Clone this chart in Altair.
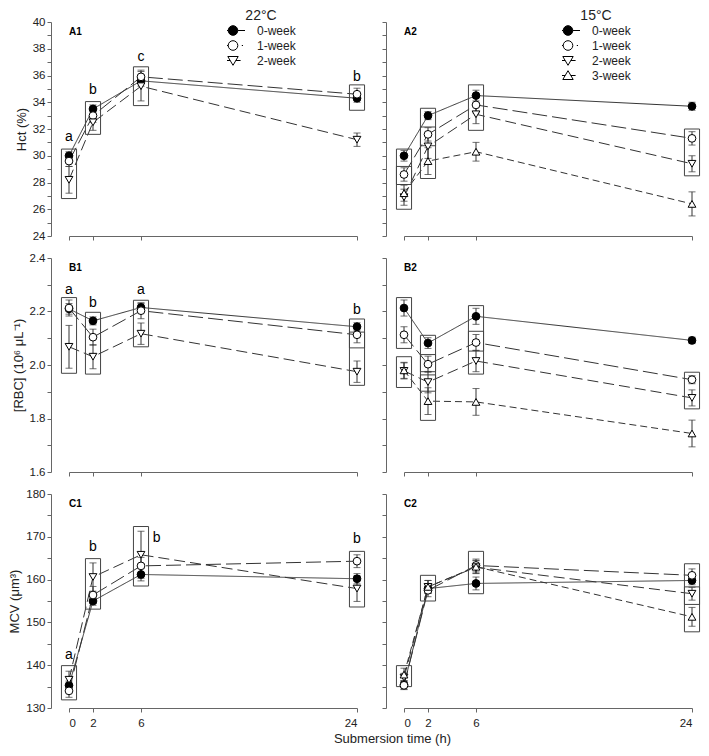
import altair as alt
import pandas as pd

FONT = "Liberation Sans"

TIMES = [0, 2, 6, 24]
WEEKS_22 = ["0-week", "1-week", "2-week"]
WEEKS_15 = ["0-week", "1-week", "2-week", "3-week"]

# ---- Hct (%) ----
HCT22_MEAN = {"0-week": [30.0, 33.5, 35.6, 34.3], "1-week": [29.6, 33.0, 35.9, 34.6], "2-week": [28.2, 32.5, 35.2, 31.2]}
HCT22_ERR = {"0-week": [0.3, 0.3, 0.4, 0.3], "1-week": [0.4, 0.5, 0.5, 0.45], "2-week": [1.0, 0.6, 1.1, 0.5]}
HCT15_MEAN = {"0-week": [30.0, 33.0, 34.5, 33.7], "1-week": [28.6, 31.6, 33.8, 31.3],
              "2-week": [26.9, 30.7, 33.1, 29.4], "3-week": [27.2, 29.6, 30.3, 26.4]}
HCT15_ERR = {"0-week": [0.4, 0.3, 0.4, 0.3], "1-week": [0.5, 0.5, 0.6, 0.5],
             "2-week": [0.6, 0.9, 0.7, 0.6], "3-week": [0.6, 1.0, 0.7, 0.9]}

# ---- [RBC] ----
RBC22_MEAN = {"0-week": [2.21, 2.165, 2.215, 2.143], "1-week": [2.213, 2.104, 2.203, 2.113], "2-week": [2.068, 2.031, 2.117, 1.975]}
RBC22_ERR = {"0-week": [0.02, 0.015, 0.015, 0.015], "1-week": [0.03, 0.03, 0.03, 0.03], "2-week": [0.08, 0.045, 0.04, 0.04]}
RBC15_MEAN = {"0-week": [2.213, 2.082, 2.182, 2.092], "1-week": [2.113, 2.003, 2.084, 1.945],
              "2-week": [1.978, 1.936, 2.015, 1.877], "3-week": [1.98, 1.865, 1.862, 1.744]}
RBC15_ERR = {"0-week": [0.03, 0.02, 0.03, 0.012], "1-week": [0.03, 0.03, 0.03, 0.015],
             "2-week": [0.03, 0.04, 0.04, 0.03], "3-week": [0.03, 0.05, 0.05, 0.05]}

# ---- MCV ----
MCV22_MEAN = {"0-week": [135.3, 155.0, 161.2, 160.2], "1-week": [134.0, 156.4, 163.2, 164.3], "2-week": [136.6, 160.6, 165.8, 157.9]}
MCV22_ERR = {"0-week": [1.0, 1.0, 1.5, 1.2], "1-week": [1.5, 2.0, 2.0, 1.5], "2-week": [2.0, 3.3, 5.5, 3.0]}
MCV15_MEAN = {"0-week": [135.4, 157.9, 159.1, 159.8], "1-week": [135.3, 157.5, 163.3, 161.0],
              "2-week": [137.1, 158.3, 162.9, 156.7], "3-week": [137.8, 158.3, 163.0, 151.3]}
MCV15_ERR = {"0-week": [1.0, 1.0, 1.5, 1.0], "1-week": [1.0, 1.5, 1.5, 1.5],
             "2-week": [1.0, 1.5, 1.5, 1.5], "3-week": [1.5, 1.5, 1.5, 2.2]}

# ---- grouping boxes: (time, low, high) ----
BOX_A1 = [(0, 26.8, 30.5), (2, 31.6, 34.05), (6, 33.75, 36.65), (24, 33.4, 35.3)]
BOX_A2 = [(0, 27.85, 30.5), (0, 26.0, 29.2), (2, 30.75, 33.55), (2, 28.3, 32.15), (6, 31.9, 35.3), (24, 28.5, 32.0)]
BOX_B1 = [(0, 1.969, 2.252), (2, 1.966, 2.197), (6, 2.068, 2.242), (24, 2.064, 2.172), (24, 1.924, 2.123)]
BOX_B2 = [(0, 2.062, 2.252), (0, 1.916, 2.031), (2, 1.975, 2.111), (2, 1.902, 2.039), (2, 1.793, 1.963),
          (6, 2.052, 2.222), (6, 1.966, 2.126), (24, 1.836, 1.973)]
BOX_C1 = [(0, 131.9, 139.9), (2, 153.1, 164.9), (6, 158.5, 172.4), (24, 153.6, 166.6)]
BOX_C2 = [(0, 135.0, 139.9), (2, 155.0, 161.0), (6, 156.7, 166.6), (24, 154.2, 163.7), (24, 147.8, 158.3)]

# ---- significance letters: (time, y, letter) ----
LET_A1 = [(0, 31.4, "a"), (2, 34.9, "b"), (6, 37.4, "c"), (24, 35.9, "b")]
LET_B1 = [(0, 2.28, "a"), (2, 2.232, "b"), (6, 2.28, "a"), (24, 2.207, "b")]
LET_C1 = [(0, 142.5, "a"), (2, 167.6, "b"), (7.3, 169.7, "b"), (24, 169.5, "b")]

# ---- tick values ----
X_TICKS = [0, 2, 6, 24]
HCT_TICKS = list(range(24, 41))
RBC_TICKS = [1.6, 1.7, 1.8, 1.9, 2.0, 2.1, 2.2, 2.3, 2.4]
MCV_TICKS = list(range(130, 181, 5))

# ---- styles ----
SHAPES = ["circle", "circle", "triangle-down", "triangle-up"]
FILLS = ["black", "white", "white", "white"]
DASHES = [[1, 0], [15, 5], [11, 5], [7, 4]]
LEG_PATHS = [
    "M1.2,0 A1.2,1.2 0 1,1 -1.2,0 A1.2,1.2 0 1,1 1.2,0 Z M-3,0 L-1.2,0 M1.2,0 L3,0",
    "M1.2,0 A1.2,1.2 0 1,1 -1.2,0 A1.2,1.2 0 1,1 1.2,0 Z M-3,0 L-1.2,0 M2.2,0 L2.5,0",
    "M-1.3,-1 L1.3,-1 L0,1.2 Z M-3,0 L-0.71,0 M0.71,0 L1.9,0",
    "M0,-1.2 L1.3,1 L-1.3,1 Z M-3,0 L-0.71,0 M0.71,0 L1.9,0",
]

W, H = 288, 214
INK = "#222"


def long_df(mean, err, weeks):
    rows = []
    for w in weeks:
        for t, m, e in zip(TIMES, mean[w], err[w]):
            rows.append({"week": w, "t": t, "v": m, "lo": m - e, "hi": m + e})
    return pd.DataFrame(rows)


def panel(mean, err, weeks, boxes, letters, ydom, yticks, ymode, ytitle,
          show_ylab, show_xlab, label, legend_title=None):
    n = len(weeks)
    df = long_df(mean, err, weeks)
    xs = alt.Scale(domain=[0, 24], nice=False, zero=False)
    ys = alt.Scale(domain=ydom, nice=False, zero=False)
    if ymode == "hct":
        lexpr = "datum.value % 2 == 0 ? datum.label : ''"
        fmt = "d"
    elif ymode == "rbc":
        lexpr = "round(datum.value * 10) % 2 == 0 ? format(datum.value, '.1f') : ''"
        fmt = ".1f"
    else:
        lexpr = "datum.value % 10 == 0 ? datum.label : ''"
        fmt = "d"
    yaxis = alt.Axis(values=yticks, labelExpr=lexpr, format=fmt, labels=show_ylab,
                     title=ytitle if show_ylab else None, offset=18, grid=False, tickSize=4)
    xaxis = alt.Axis(values=X_TICKS, labels=show_xlab, title=None, grid=False, tickSize=4,
                     format="d", labelPadding=5)

    def X(f="t"):
        return alt.X(f"{f}:Q", scale=xs, axis=xaxis)

    def Y(f):
        return alt.Y(f"{f}:Q", scale=ys, axis=yaxis)

    base = alt.Chart(df)
    lines = base.mark_line(color="#333", strokeWidth=1).encode(
        x=X(), y=Y("v"),
        strokeDash=alt.StrokeDash("week:N", scale=alt.Scale(domain=weeks, range=DASHES[:n]), legend=None),
    )
    bdf = pd.DataFrame(boxes, columns=["t", "blo", "bhi"])
    rects = alt.Chart(bdf).transform_calculate(
        x1="datum.t - 0.63", x2="datum.t + 0.63"
    ).mark_rect(fillOpacity=0, stroke="#444", strokeWidth=1).encode(
        x=X("x1"), x2="x2:Q", y=Y("blo"), y2="bhi:Q"
    )
    rules = base.mark_rule(color="#333", strokeWidth=1).encode(x=X(), y=Y("lo"), y2="hi:Q")
    cap_lo = base.mark_tick(orient="horizontal", size=7, thickness=1, color="#333").encode(x=X(), y=Y("lo"))
    cap_hi = base.mark_tick(orient="horizontal", size=7, thickness=1, color="#333").encode(x=X(), y=Y("hi"))
    pts = base.mark_point(opacity=1, size=60, stroke="black", strokeWidth=1).encode(
        x=X(), y=Y("v"),
        shape=alt.Shape("week:N", scale=alt.Scale(domain=weeks, range=SHAPES[:n]), legend=None),
        fill=alt.Fill("week:N", scale=alt.Scale(domain=weeks, range=FILLS[:n]), legend=None),
    )
    lab = alt.Chart(pd.DataFrame({"lab": [label]})).mark_text(
        align="left", baseline="middle", fontWeight="bold", fontSize=10, font=FONT, color="black"
    ).encode(x=alt.value(0), y=alt.value(10), text="lab:N")

    layers = [lines, rects, rules, cap_lo, cap_hi, pts, lab]
    if letters:
        ldf = pd.DataFrame(letters, columns=["t", "ly", "txt"])
        layers.append(alt.Chart(ldf).mark_text(fontSize=14, font=FONT, baseline="middle", color="black").encode(
            x=X(), y=Y("ly"), text="txt:N"))
    if legend_title:
        leg = alt.Legend(
            title=legend_title, orient="none", legendX=158, legendY=-13, padding=0,
            symbolSize=64, labelOffset=18, titleFontSize=14, titleFontWeight="normal",
            titleFont=FONT, labelFont=FONT, labelFontSize=12, labelColor=INK, titleColor=INK,
            titleAnchor="middle", titlePadding=0, clipHeight=15, rowPadding=0,
            symbolStrokeWidth=1, symbolStrokeColor="black",
        )
        legl = base.transform_calculate(leg="datum.week").transform_filter("false").mark_point(
            opacity=1, strokeWidth=1).encode(
            x=X(), y=Y("v"),
            shape=alt.Shape("leg:N", scale=alt.Scale(domain=weeks, range=LEG_PATHS[:n]), legend=leg),
            fill=alt.Fill("leg:N", scale=alt.Scale(domain=weeks, range=FILLS[:n]), legend=leg),
            stroke=alt.Stroke("leg:N", scale=alt.Scale(domain=weeks, range=["black"] * n), legend=leg),
        )
        layers.append(legl)
    return alt.layer(*layers).resolve_scale(
        shape="independent", fill="independent", stroke="independent").properties(width=W, height=H)


HCT_T = "Hct (%)"
RBC_T = "[RBC] (10\u2076 \u03bcL\u207b\u00b9)"
MCV_T = "MCV (\u03bcm\u00b3)"

A1 = panel(HCT22_MEAN, HCT22_ERR, WEEKS_22, BOX_A1, LET_A1, [24, 40], HCT_TICKS, "hct", HCT_T, True, False, "A1", "22\u00b0C")
A2 = panel(HCT15_MEAN, HCT15_ERR, WEEKS_15, BOX_A2, None, [24, 40], HCT_TICKS, "hct", HCT_T, False, False, "A2", "15\u00b0C")
B1 = panel(RBC22_MEAN, RBC22_ERR, WEEKS_22, BOX_B1, LET_B1, [1.6, 2.4], RBC_TICKS, "rbc", RBC_T, True, False, "B1")
B2 = panel(RBC15_MEAN, RBC15_ERR, WEEKS_15, BOX_B2, None, [1.6, 2.4], RBC_TICKS, "rbc", RBC_T, False, False, "B2")
C1 = panel(MCV22_MEAN, MCV22_ERR, WEEKS_22, BOX_C1, LET_C1, [130, 180], MCV_TICKS, "mcv", MCV_T, True, True, "C1")
C2 = panel(MCV15_MEAN, MCV15_ERR, WEEKS_15, BOX_C2, None, [130, 180], MCV_TICKS, "mcv", MCV_T, False, True, "C2")

chart = alt.concat(
    A1, A2, B1, B2, C1, C2, columns=2, spacing={"row": 22, "column": 47}, bounds="flush",
    title=alt.Title("Submersion time (h)", orient="bottom", anchor="middle", fontSize=13,
                    fontWeight="normal", font=FONT, color=INK, offset=4, dx=38),
).resolve_scale(
    x="independent", y="independent", shape="independent", fill="independent",
    strokeDash="independent", stroke="independent"
).resolve_legend(shape="independent", fill="independent", stroke="independent").properties(
    padding={"left": 0, "top": 1, "right": 0, "bottom": 0}
).configure_view(stroke=None).configure_axis(
    labelFont=FONT, titleFont=FONT, labelFontSize=11.5, titleFontSize=13, titleFontWeight="normal",
    labelColor=INK, titleColor=INK, domainColor="#666", tickColor="#666", labelPadding=2, titlePadding=4,
)

chart.save("out.html", embed_options={"renderer": "svg", "actions": False})
